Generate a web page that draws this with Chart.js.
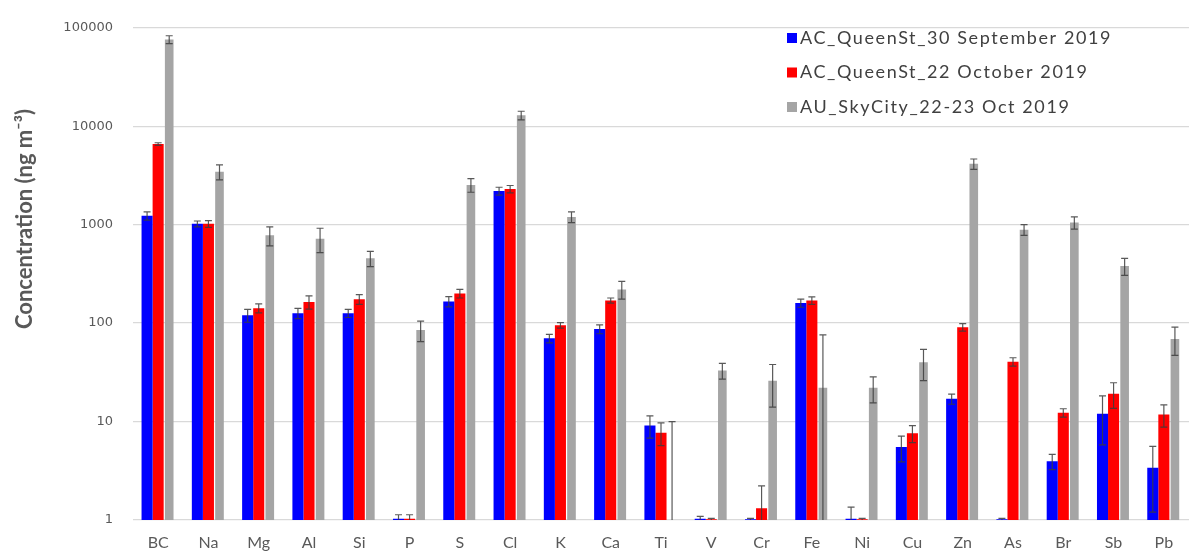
<!DOCTYPE html>
<html>
<head>
<meta charset="utf-8">
<script src="https://cdn.jsdelivr.net/npm/chart.js@4"></script>
<style>
  html, body { margin: 0; padding: 0; background: #fff; }
  #wrap { width: 1194px; height: 553px; position: relative; }
</style>
</head>
<body>
<div id="wrap"><canvas id="elemChart"></canvas></div>
<script>
// element categories
const elements = ['BC', 'Na', 'Mg', 'Al', 'Si', 'P', 'S', 'Cl', 'K', 'Ca', 'Ti', 'V', 'Cr', 'Fe', 'Ni', 'Cu', 'Zn', 'As', 'Br', 'Sb', 'Pb'];

// concentrations (ng m-3)
const queenSep = [1230, 1020, 120, 126, 126, 1.03, 166, 2200, 70, 87, 9.1, 1.03, 1.02, 160, 1.03, 5.5, 17, 1.02, 3.95, 12, 3.4];
const queenOct = [6600, 1020, 142, 164, 175, 1.03, 200, 2300, 95, 170, 7.7, 1.02, 1.32, 170, 1.02, 7.6, 91, 40.5, 12.3, 19.2, 11.8];
const skyCity = [76000, 3450, 780, 720, 455, 85, 2535, 12900, 1200, 220, 1, 33, 26, 22, 22, 40, 4150, 890, 1050, 380, 69];

// error bar half-widths
const queenSepErr = [120, 70, 18, 15, 12, 0.1, 20, 200, 7, 9, 2.3, 0.06, 0.02, 15, 0.32, 1.6, 2, 0.02, 0.7, 6.2, 2.2];
const queenOctErr = [200, 80, 15, 25, 20, 0.1, 20, 200, 6, 10, 2, 0.02, 0.9, 15, 0.02, 1.5, 8, 4, 1.2, 5.6, 3];
const skyCityErr = [7000, 600, 170, 200, 80, 20, 400, 1300, 150, 45, 9, 6, 12, 54, 6.5, 14, 500, 110, 150, 75, 22];

const yTicks = [1, 10, 100, 1000, 10000, 100000];

const seriesLabels = ['AC_QueenSt_30 September 2019', 'AC_QueenSt_22 October 2019', 'AU_SkyCity_22-23 Oct 2019'];
const seriesColors = ['#0000ff', '#ff0000', '#a5a5a5'];
const yTitle = 'Concentration (ng m\u207B\u00B3)';

// draws the error bars on top of every bar
const errorBars = {
    id: 'errorBars',
    afterDatasetsDraw(chart) {
        const c = chart.ctx;
        const y = chart.scales.y;
        const area = chart.chartArea;
        c.save();
        c.beginPath();
        c.rect(area.left, area.top - 5, area.right - area.left, area.bottom - area.top + 5);
        c.clip();
        c.strokeStyle = 'rgba(60,60,60,0.85)';
        c.lineWidth = 1.2;
        chart.data.datasets.forEach((ds, di) => {
            const meta = chart.getDatasetMeta(di);
            meta.data.forEach((bar, i) => {
                const v = ds.data[i];
                const e = ds.errors[i];
                const top = y.getPixelForValue(v + e);
                const low = v - e;
                const bot = low > 0 ? y.getPixelForValue(low) : area.bottom;
                const x = bar.x;
                c.beginPath();
                c.moveTo(x, top);
                c.lineTo(x, Math.min(bot, area.bottom));
                c.moveTo(x - 3.5, top);
                c.lineTo(x + 3.5, top);
                if (low > 0 && bot < area.bottom) {
                    c.moveTo(x - 3.5, bot);
                    c.lineTo(x + 3.5, bot);
                }
                c.stroke();
            });
        });
        c.restore();
    }
};

// legend inside the plot (top right) and the y title, placed by hand
const boxLegend = {
    id: 'boxLegend',
    afterDraw(chart) {
        const c = chart.ctx;
        c.save();
        c.font = '18px Lato';
        c.letterSpacing = '1.6px';
        c.textBaseline = 'middle';
        chart.data.datasets.forEach((ds, i) => {
            const yy = 38 + i * 34.5;
            c.fillStyle = ds.backgroundColor;
            c.fillRect(787, yy - 5, 10, 10);
            c.fillStyle = '#404040';
            c.fillText(ds.label, 800, yy);
        });
        c.restore();

        c.save();
        c.translate(25, 219);
        c.rotate(-Math.PI / 2);
        c.font = 'bold 22px Lato';
        c.fillStyle = '#595959';
        c.textAlign = 'center';
        c.textBaseline = 'middle';
        c.fillText(yTitle, 0, 0);
        c.restore();
    }
};

const datasets = [queenSep, queenOct, skyCity].map((vals, i) => ({
    label: seriesLabels[i],
    data: vals,
    errors: [queenSepErr, queenOctErr, skyCityErr][i],
    backgroundColor: seriesColors[i],
    borderWidth: 0,
    barPercentage: i === 2 ? 0.78 : 1,
    categoryPercentage: 0.66
}));

new Chart(document.getElementById('elemChart'), {
    type: 'bar',
    data: { labels: elements, datasets: datasets },
    plugins: [errorBars, boxLegend],
    options: {
        responsive: true,
        maintainAspectRatio: false,
        animation: false,
        layout: { padding: { top: 16, right: 5, left: 0, bottom: 0 } },
        plugins: {
            legend: { display: false },
            tooltip: { enabled: false }
        },
        scales: {
            x: {
                grid: { display: false },
                border: { display: false },
                ticks: {
                    color: '#595959',
                    font: { family: 'Lato', size: 16 },
                    padding: 5,
                    maxRotation: 0
                },
                afterFit(axis) { axis.height = 33; }
            },
            y: {
                type: 'logarithmic',
                min: 1,
                max: 100000,
                afterBuildTicks(axis) {
                    axis.ticks = yTicks.map(v => ({ value: v }));
                },
                grid: { color: '#d9d9d9', lineWidth: 1.3, drawTicks: false },
                border: { display: false },
                ticks: {
                    color: '#595959',
                    font: { family: 'DejaVu Sans', size: 13 },
                    padding: 20,
                    callback: v => String(v)
                },
                afterFit(axis) { axis.width = 133; }
            }
        }
    }
});
</script>
</body>
</html>
